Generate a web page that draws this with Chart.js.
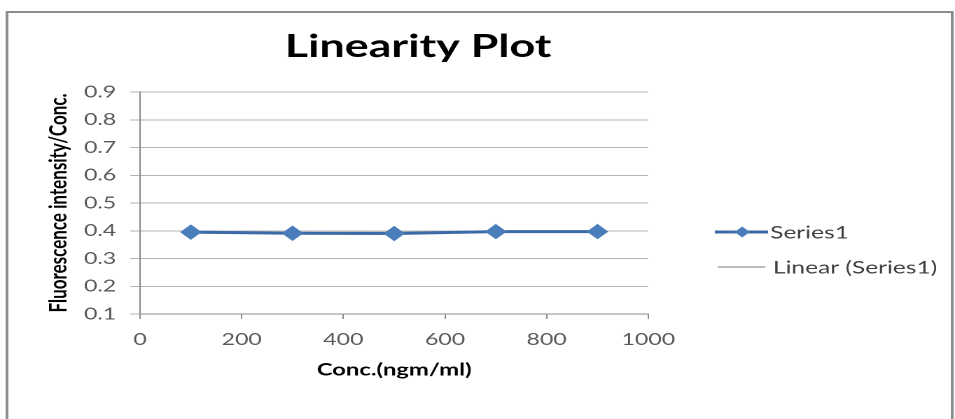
<!DOCTYPE html>
<html>
<head>
<meta charset="utf-8">
<script src="https://cdn.jsdelivr.net/npm/chart.js@4.4.1/dist/chart.umd.min.js"></script>
<style>
  html, body { margin: 0; padding: 0; background: #fff; overflow: hidden; }
  /* the reference is stretched sideways, so draw narrow and stretch */
  #wrap { width: 682px; height: 419px; transform: scaleX(1.40029); transform-origin: 0 0; }
</style>
</head>
<body>
<div id="wrap"><canvas id="chart"></canvas></div>
<script>
const concentrations = [100, 300, 500, 700, 900];
const series1 = [0.395, 0.391, 0.390, 0.397, 0.397];
const trendX = [100, 900];
const trendY = [0.392, 0.396];
const xTicks = [0, 200, 400, 600, 800, 1000];
const yTicks = [0.1, 0.2, 0.3, 0.4, 0.5, 0.6, 0.7, 0.8, 0.9];

Chart.defaults.font.family = "Lato";

const lineColor = "#3c6aa6";
const pointColor = "#4a7ebb";
const trendColor = "#a6a6a6";

// frame, title and legend
const decorations = {
  id: "decorations",
  beforeDraw(chart) {
    const ctx = chart.ctx;
    ctx.save();
    ctx.strokeStyle = "#8c8c8c";
    ctx.lineWidth = 2;
    ctx.strokeRect(5, 12, 675, 420);
    ctx.restore();
  },
  afterDraw(chart) {
    const ctx = chart.ctx;
    ctx.save();
    ctx.fillStyle = "#000";
    ctx.font = "bold 32px Lato";
    ctx.textAlign = "center";
    ctx.textBaseline = "alphabetic";
    ctx.fillText("Linearity Plot", 298.6, 57);

    // legend
    ctx.textAlign = "left";
    ctx.textBaseline = "middle";
    ctx.font = "17.5px Lato";

    ctx.strokeStyle = lineColor;
    ctx.lineWidth = 3;
    ctx.beginPath();
    ctx.moveTo(510.5, 232);
    ctx.lineTo(548.5, 232);
    ctx.stroke();
    ctx.fillStyle = pointColor;
    ctx.beginPath();
    ctx.moveTo(530 - 5.5, 232);
    ctx.lineTo(530, 232 - 5.5);
    ctx.lineTo(530 + 5.5, 232);
    ctx.lineTo(530, 232 + 5.5);
    ctx.closePath();
    ctx.fill();
    ctx.fillStyle = "#404040";
    ctx.fillText(chart.data.datasets[0].label, 550, 233);

    ctx.strokeStyle = trendColor;
    ctx.lineWidth = 1.5;
    ctx.beginPath();
    ctx.moveTo(512.5, 267);
    ctx.lineTo(546.5, 267);
    ctx.stroke();
    ctx.fillText(chart.data.datasets[1].label, 552, 268);
    ctx.restore();
  }
};

new Chart(document.getElementById("chart"), {
  type: "scatter",
  data: {
    datasets: [
      {
        label: "Series1",
        data: concentrations.map((x, i) => ({ x, y: series1[i] })),
        showLine: true,
        borderColor: lineColor,
        borderWidth: 3,
        backgroundColor: pointColor,
        pointStyle: "rectRot",
        pointRadius: 7,
        pointBorderWidth: 1,
        pointBackgroundColor: pointColor,
        pointBorderColor: pointColor,
        order: 0
      },
      {
        label: "Linear (Series1)",
        data: trendX.map((x, i) => ({ x, y: trendY[i] })),
        showLine: true,
        borderColor: trendColor,
        borderWidth: 1.5,
        pointRadius: 0,
        order: 1
      }
    ]
  },
  options: {
    responsive: true,
    maintainAspectRatio: false,
    animation: false,
    devicePixelRatio: 2,
    layout: { padding: { left: 30, right: 219, top: 92, bottom: 39 } },
    plugins: {
      legend: { display: false },
      title: { display: false },
      tooltip: { enabled: false }
    },
    scales: {
      x: {
        type: "linear",
        min: 0,
        max: 1000,
        afterBuildTicks: (s) => { s.ticks = xTicks.map((v) => ({ value: v })); },
        afterFit: (s) => { s.height = 66; },
        ticks: {
          callback: (v) => String(v),
          color: "#595959",
          font: { size: 16.5 },
          padding: 11
        },
        grid: { drawOnChartArea: false, drawTicks: true, tickLength: 5, color: "#8c8c8c" },
        border: { color: "#8c8c8c" },
        title: {
          display: true,
          text: "Conc.(ngm/ml)",
          color: "#000",
          font: { size: 17, weight: "bold" },
          padding: { top: 0, bottom: 0 }
        }
      },
      y: {
        min: 0.1,
        max: 0.9,
        afterBuildTicks: (s) => { s.ticks = yTicks.map((v) => ({ value: v })); },
        afterFit: (s) => { s.width = 70; },
        ticks: {
          callback: (v) => v.toFixed(1),
          color: "#595959",
          font: { size: 16.5 },
          padding: 10
        },
        grid: { color: "#b3b3b3", tickLength: 7 },
        border: { color: "#8c8c8c" },
        title: {
          display: true,
          text: "Fluorescence intensity/Conc.",
          color: "#000",
          font: { size: 17, weight: "bold" },
          padding: { top: 2, bottom: 0 }
        }
      }
    }
  },
  plugins: [decorations]
});
</script>
</body>
</html>
